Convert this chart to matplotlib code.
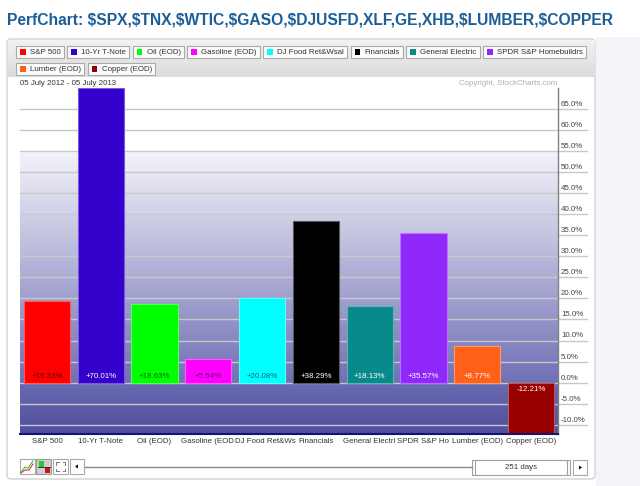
import matplotlib
matplotlib.use("Agg")
import matplotlib.pyplot as plt
import matplotlib.patches as mpatches
from matplotlib import font_manager
from matplotlib.colors import to_rgb
import numpy as np

W, H = 640, 486

title = "PerfChart: $SPX,$TNX,$WTIC,$GASO,$DJUSFD,XLF,GE,XHB,$LUMBER,$COPPER"
date_range = "05 July 2012 - 05 July 2013"
period = "251 days"

names = ["S&P 500", "10-Yr T-Note", "Oil (EOD)", "Gasoline (EOD)", "DJ Food Ret&Wsal",
         "Financials", "General Electric", "SPDR S&P Homebuildrs", "Lumber (EOD)", "Copper (EOD)"]
changes = [19.33, 70.01, 18.63, 5.54, 20.08, 38.29, 18.13, 35.57, 8.77, -12.21]
colors = ["#ff0000", "#3300cc", "#00ff00", "#ff00ff", "#00ffff",
          "#000000", "#088a8a", "#9028fc", "#ff6119", "#990000"]
label_colors = ["#6b0000", "white", "#006b00", "#6b006b", "#006b6b",
                "white", "white", "white", "white", "white"]
ytick_values = list(range(-10, 70, 5))


def has_font(name):
    try:
        font_manager.findfont(font_manager.FontProperties(family=name), fallback_to_default=False)
        return True
    except ValueError:
        return False


NARROW = has_font("Liberation Sans Narrow")
SMALL_FONT = "Liberation Sans Narrow" if NARROW else "Liberation Sans"
SMALL_SIZE = 6.8 if NARROW else 5.7

plt.rcParams["font.family"] = ["Liberation Sans", "DejaVu Sans"]

fig = plt.figure(figsize=(W / 100, H / 100), dpi=100)
renderer = fig.canvas.get_renderer()


def width_px(txt):
    return txt.get_window_extent(renderer=renderer).width


# background layer in pixel coordinates (origin top-left)
bg = fig.add_axes([0, 0, 1, 1])
bg.set_autoscale_on(False)
bg.set_xlim(0, W)
bg.set_ylim(H, 0)
bg.axis("off")

bg.add_patch(mpatches.Rectangle((596, 37), 44, H - 37, facecolor="#f4f5f9", edgecolor="none"))
bg.add_patch(mpatches.FancyBboxPatch((7, 39), 588, 440, boxstyle="round,pad=0,rounding_size=4",
                                     facecolor="white", edgecolor="#d2d2d2", lw=1))
head = np.linspace(0, 1, 60)[:, None, None]
top_c = np.array([0.95, 0.95, 0.95])
bot_c = np.array([0.86, 0.86, 0.86])
bg.imshow(top_c + (bot_c - top_c) * head, extent=(8, 595, 77, 40), origin="upper",
          aspect="auto", interpolation="bilinear", zorder=1)

t = bg.text(7, 20, title, fontsize=14, fontweight="bold", color="#1b5e98",
            va="center", ha="left", parse_math=False)
t.set_fontsize(14 * 610 / width_px(t))

# legend buttons
x, row = 16, 0
row_tops = [46, 63]
for name, color in zip(names, colors):
    lt = bg.text(0, 0, name, fontsize=SMALL_SIZE, family=SMALL_FONT, color="#333333",
                 va="center", ha="left", zorder=4)
    bw = 4 + 6 + 4 + width_px(lt) + 3
    if x + bw > 590:
        x, row = 16, row + 1
    y0 = row_tops[row]
    bg.add_patch(mpatches.Rectangle((x, y0), bw, 12, facecolor="#fbfbfb", edgecolor="#aaaaaa",
                                    lw=0.8, zorder=3))
    bg.add_patch(mpatches.Rectangle((x + 4, y0 + 3.5), 5.5, 5.5, facecolor=color, edgecolor="none",
                                    zorder=4))
    lt.set_position((x + 14, y0 + 6.3))
    x += bw + 3.5

bg.text(20, 83.5, date_range, fontsize=SMALL_SIZE, family=SMALL_FONT, color="#333333",
        va="center", ha="left")
bg.text(557, 83.5, "Copyright, StockCharts.com", fontsize=SMALL_SIZE, family=SMALL_FONT,
        color="#b0b0b0", va="center", ha="right")

# bottom controls
bg.add_patch(mpatches.Rectangle((20, 459), 15, 15, facecolor="white", edgecolor="#aaaaaa", lw=0.8))
bg.plot([21, 25, 28, 33], [472, 467, 468, 461], color="#33cc33", lw=0.8)
bg.plot([21, 25, 29, 33], [473, 470, 470, 464], color="#dd3333", lw=0.8)
bg.add_patch(mpatches.Rectangle((36, 459), 15, 15, facecolor="#cfcfcf", edgecolor="#999999", lw=0.8))
bg.add_patch(mpatches.Rectangle((39, 461), 5, 6, facecolor="#22cc22", edgecolor="none"))
bg.add_patch(mpatches.Rectangle((45, 467), 5, 6, facecolor="#cc1111", edgecolor="none"))
bg.plot([38, 50], [467, 467], color="#333333", lw=0.7)
bg.add_patch(mpatches.Rectangle((53, 459), 15, 15, facecolor="white", edgecolor="#aaaaaa", lw=0.8))
for cx, cy, dx, dy in [(56, 462, 1, 1), (65, 462, -1, 1), (56, 471, 1, -1), (65, 471, -1, -1)]:
    bg.plot([cx, cx, cx + 2.5 * dx], [cy + 2.5 * dy, cy, cy], color="#777777", lw=0.7)
bg.add_patch(mpatches.Rectangle((70, 459), 14, 15, facecolor="white", edgecolor="#aaaaaa", lw=0.8))
bg.add_patch(mpatches.Polygon([(75, 466.5), (78, 464.5), (78, 468.5)], closed=True,
                              facecolor="black", edgecolor="none"))
bg.plot([85, 472], [467, 467], color="#888888", lw=1)
bg.add_patch(mpatches.Rectangle((472, 460), 98, 15, facecolor="white", edgecolor="#a0a0a0", lw=0.8))
bg.plot([475, 475], [461, 474], color="#a0a0a0", lw=0.8)
bg.plot([567, 567], [461, 474], color="#a0a0a0", lw=0.8)
bg.text(521, 467.5, period, fontsize=SMALL_SIZE, family=SMALL_FONT, color="#333333",
        va="center", ha="center")
bg.add_patch(mpatches.Rectangle((573, 460), 14, 15, facecolor="white", edgecolor="#aaaaaa", lw=0.8))
bg.add_patch(mpatches.Polygon([(582, 467.5), (579, 465.5), (579, 469.5)], closed=True,
                              facecolor="black", edgecolor="none"))

# main chart
ax = fig.add_axes([20 / W, 1 - 434 / H, 538 / W, 346 / H])
n = len(names)
ymin, ymax = min(changes), max(changes)

yy = np.linspace(ymin, ymax, 700)
grad = np.empty((len(yy), 3))
hi = np.array(to_rgb("#f4f4fa"))
lo = np.array(to_rgb("#7070b6"))
neg_top = np.array(to_rgb("#6a6ab2"))
neg_bot = np.array(to_rgb("#4f4f9e"))
for k, v in enumerate(yy):
    if v >= 55:
        grad[k] = 1.0
    elif v >= 0:
        grad[k] = lo + (hi - lo) * (v / 55)
    else:
        grad[k] = neg_top + (neg_bot - neg_top) * (v / ymin)
ax.imshow(grad[:, None, :], extent=(-0.5, n - 0.5, ymin, ymax), origin="lower",
          aspect="auto", interpolation="bilinear", zorder=0)
ax.set_xlim(-0.5, n - 0.5)
ax.set_ylim(ymin, ymax)

for v in ytick_values:
    ax.axhline(v, xmin=0, xmax=567 / 538, color="#c8c8c8", lw=1.0, zorder=1, clip_on=False)
    ax.text(1 + 3 / 538, v + 0.25, f"{v:.1f}%", transform=ax.get_yaxis_transform(),
            fontsize=SMALL_SIZE, family=SMALL_FONT, color="#444444", va="bottom", ha="left")

edge_colors = [tuple(0.65 * np.array(to_rgb(c)) + 0.35) for c in colors]
xs = np.arange(n)
ax.bar(xs, changes, width=0.86, color=colors, edgecolor=edge_colors, linewidth=0.8, zorder=2)

for i, (v, lc) in enumerate(zip(changes, label_colors)):
    ax.annotate(f"{v:+.2f}%", xy=(i, 0), xytext=(0, 4.3 if v >= 0 else -4.7),
                textcoords="offset points", ha="center", va="center", color=lc,
                fontsize=SMALL_SIZE, family=SMALL_FONT, zorder=3)

# category labels: long ones start at the slot's left edge and get cut where the next label begins
xtrans = ax.get_xaxis_transform()
slot_px = 538 / n
label_y = -(441 - 434) / 346
xt_list = []
lefts = []
for i, name in enumerate(names):
    xt = ax.text(i, label_y, name, transform=xtrans, fontsize=SMALL_SIZE,
                 family=SMALL_FONT, color="#333333", ha="center", va="center")
    w = width_px(xt)
    if w > slot_px:
        xt.set_position((i - 0.5, label_y))
        xt.set_ha("left")
        lefts.append(20 + i * slot_px)
    else:
        lefts.append(20 + (i + 0.5) * slot_px - w / 2)
    xt_list.append(xt)

for i, xt in enumerate(xt_list[:-1]):
    room = lefts[i + 1] - lefts[i] - 0.5
    s = xt.get_text()
    while width_px(xt) > room and len(s) > 1:
        s = s[:-1]
        xt.set_text(s)

ax.set_xticks([])
ax.set_yticks([])
ax.spines["top"].set_visible(False)
ax.spines["left"].set_visible(False)
ax.spines["right"].set_color("#808080")
ax.spines["right"].set_linewidth(1)
ax.spines["bottom"].set_color("#14146e")
ax.spines["bottom"].set_linewidth(1.5)

fig.savefig("out.png", dpi=100)
